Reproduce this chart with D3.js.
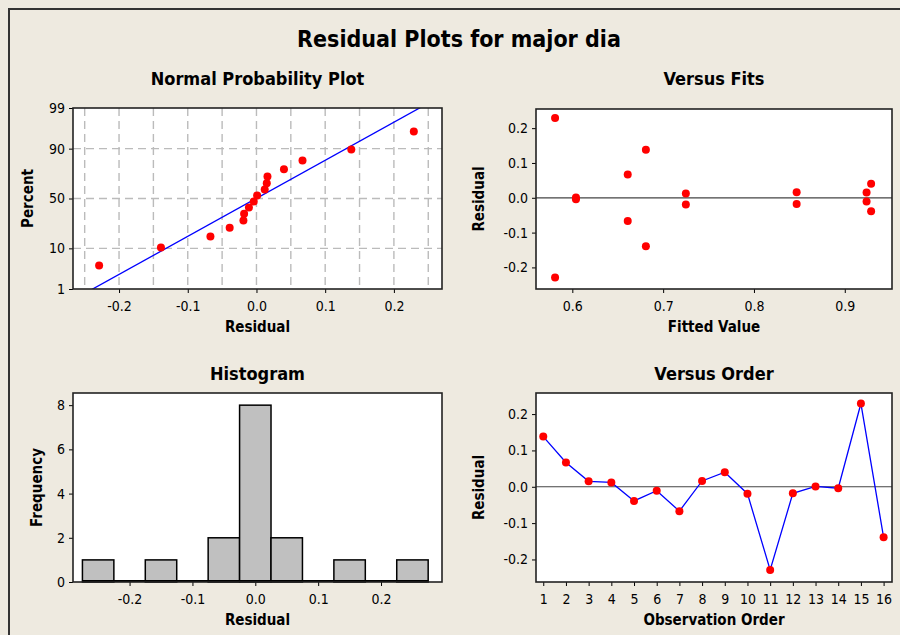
<!DOCTYPE html>
<html>
<head>
<meta charset="utf-8">
<script src="https://cdn.jsdelivr.net/npm/d3@7"></script>
<style>
  body { margin: 0; background: #eeeae0; }
  text { font-family: "DejaVu Sans Condensed", "DejaVu Sans", sans-serif; fill: #000; }
</style>
</head>
<body>
<svg width="900" height="635"></svg>
<script>
// residuals and fits, listed by observation order
var observationOrder = [1, 2, 3, 4, 5, 6, 7, 8, 9, 10, 11, 12, 13, 14, 15, 16];
var residuals = [0.138, 0.067, 0.015, 0.012, -0.039, -0.011, -0.067, 0.016,
                 0.040, -0.019, -0.229, -0.018, 0.001, -0.004, 0.229, -0.139];
var fittedValues = [0.681, 0.661, 0.924, 0.725, 0.929, 0.924, 0.661, 0.847,
                    0.929, 0.725, 0.581, 0.847, 0.604, 0.604, 0.581, 0.681];

// tick labels
var percentTicks = [1, 10, 50, 90, 99];
var npResidTicks = [-0.2, -0.1, 0.0, 0.1, 0.2];
var npGridX = [-0.25, -0.2, -0.15, -0.1, -0.05, 0, 0.05, 0.1, 0.15, 0.2, 0.25];
var npGridY = [10, 50, 90];
var residTicks = [-0.2, -0.1, 0.0, 0.1, 0.2];
var fitTicks = [0.6, 0.7, 0.8, 0.9];
var freqTicks = [0, 2, 4, 6, 8];
var binEdges = [-0.275, -0.225, -0.175, -0.125, -0.075, -0.025, 0.025, 0.075, 0.125, 0.175, 0.225, 0.275];

var svg = d3.select("svg");
// plain hyphen for negatives, like the original
var loc = d3.formatLocale({ decimal: ".", thousands: ",", grouping: [3], currency: ["", ""], minus: "-" });
var fmt1 = loc.format(".1f");

// inverse normal cdf (Acklam)
function qnorm(p) {
  var a = [-39.69683028665376, 220.9460984245205, -275.9285104469687, 138.3577518672690, -30.66479806614716, 2.506628277459239];
  var b = [-54.47609879822406, 161.5858368580409, -155.6989798598866, 66.80131188771972, -13.28068155288572];
  var c = [-0.007784894002430293, -0.3223964580411365, -2.400758277161838, -2.549732539343734, 4.374664141464968, 2.938163982698783];
  var d = [0.007784695709041462, 0.3224671290700398, 2.445134137142996, 3.754408661907416];
  var q, r;
  if (p < 0.02425) {
    q = Math.sqrt(-2 * Math.log(p));
    return (((((c[0]*q+c[1])*q+c[2])*q+c[3])*q+c[4])*q+c[5]) / ((((d[0]*q+d[1])*q+d[2])*q+d[3])*q+1);
  } else if (p > 1 - 0.02425) {
    q = Math.sqrt(-2 * Math.log(1 - p));
    return -(((((c[0]*q+c[1])*q+c[2])*q+c[3])*q+c[4])*q+c[5]) / ((((d[0]*q+d[1])*q+d[2])*q+d[3])*q+1);
  }
  q = p - 0.5; r = q * q;
  return (((((a[0]*r+a[1])*r+a[2])*r+a[3])*r+a[4])*r+a[5])*q / (((((b[0]*r+b[1])*r+b[2])*r+b[3])*r+b[4])*r+1);
}

// background + frame
svg.append("rect").attr("width", 900).attr("height", 635).attr("fill", "#eeeae0");
svg.append("line").attr("x1", 8).attr("x2", 900).attr("y1", 9).attr("y2", 9).attr("stroke", "#333").attr("stroke-width", 2);
svg.append("line").attr("x1", 9).attr("x2", 9).attr("y1", 9).attr("y2", 635).attr("stroke", "#333").attr("stroke-width", 2);

svg.append("text").attr("x", 459).attr("y", 47).attr("text-anchor", "middle")
  .style("font-size", "23px").style("font-weight", "bold").text("Residual Plots for major dia");

// panel helper: white box, title, axis labels
function panel(p) {
  var g = svg.append("g");
  g.append("rect").attr("x", p.x0).attr("y", p.y0).attr("width", p.x1 - p.x0).attr("height", p.y1 - p.y0)
    .attr("fill", "#fff");
  g.append("text").attr("x", (p.x0 + p.x1) / 2).attr("y", p.ty).attr("text-anchor", "middle")
    .style("font-size", "18px").style("font-weight", "bold").text(p.title);
  g.append("text").attr("x", (p.x0 + p.x1) / 2).attr("y", p.y1 + 43).attr("text-anchor", "middle")
    .style("font-size", "15px").style("font-weight", "bold").text(p.xlab);
  g.append("text").attr("transform", "translate(" + p.ylx + "," + (p.y0 + p.y1) / 2 + ") rotate(-90)")
    .attr("text-anchor", "middle").style("font-size", "15px").style("font-weight", "bold").text(p.ylab);
  g.append("clipPath").attr("id", p.id).append("rect")
    .attr("x", p.x0).attr("y", p.y0).attr("width", p.x1 - p.x0).attr("height", p.y1 - p.y0);
  return g;
}

function axes(g, p, x, y, xt, yt, xf, yf) {
  var xa = g.append("g").attr("transform", "translate(0," + p.y1 + ")")
    .call(d3.axisBottom(x).tickValues(xt).tickFormat(xf).tickSize(4).tickSizeOuter(0).tickPadding(8));
  var ya = g.append("g").attr("transform", "translate(" + p.x0 + ",0)")
    .call(d3.axisLeft(y).tickValues(yt).tickFormat(yf).tickSize(4).tickSizeOuter(0).tickPadding(4));
  [xa, ya].forEach(function (a) {
    a.select(".domain").remove();
    a.selectAll("text").style("font-size", "14px").attr("fill", "#000")
      .style("font-family", "'DejaVu Sans Condensed', 'DejaVu Sans', sans-serif");
    a.selectAll("line").attr("stroke", "#000");
  });
}

function frame(g, p) {
  g.append("rect").attr("x", p.x0).attr("y", p.y0).attr("width", p.x1 - p.x0).attr("height", p.y1 - p.y0)
    .attr("fill", "none").attr("stroke", "#222").attr("stroke-width", 1.6);
}

// ---- Normal Probability Plot ----
var np = { id: "cNP", x0: 73, x1: 442, y0: 108, y1: 289, ty: 85, title: "Normal Probability Plot",
           xlab: "Residual", ylab: "Percent", ylx: 33 };
var gNP = panel(np);
var xNP = d3.scaleLinear().domain([-0.267, 0.270]).range([np.x0, np.x1]);
var yNP = d3.scaleLinear().domain([qnorm(0.01), qnorm(0.99)]).range([np.y1, np.y0]);

gNP.selectAll(".gx").data(npGridX).enter().append("line")
  .attr("x1", xNP).attr("x2", xNP).attr("y1", np.y0).attr("y2", np.y1)
  .attr("stroke", "#bbb").attr("stroke-width", 1.4).attr("stroke-dasharray", "8,5");
gNP.selectAll(".gy").data(npGridY).enter().append("line")
  .attr("x1", np.x0).attr("x2", np.x1)
  .attr("y1", function (d) { return yNP(qnorm(d / 100)); })
  .attr("y2", function (d) { return yNP(qnorm(d / 100)); })
  .attr("stroke", "#bbb").attr("stroke-width", 1.4).attr("stroke-dasharray", "8,5");

var mu = d3.mean(residuals), sd = d3.deviation(residuals);
var zr = [qnorm(0.005), qnorm(0.995)];
gNP.append("line").attr("clip-path", "url(#cNP)")
  .attr("x1", xNP(mu + zr[0] * sd)).attr("y1", yNP(zr[0]))
  .attr("x2", xNP(mu + zr[1] * sd)).attr("y2", yNP(zr[1]))
  .attr("stroke", "#0000ff").attr("stroke-width", 1.3);

var sorted = residuals.slice().sort(d3.ascending);
var n = sorted.length;
gNP.selectAll(".pt").data(sorted).enter().append("circle")
  .attr("cx", function (d) { return xNP(d); })
  .attr("cy", function (d, i) { return yNP(qnorm((i + 1 - 0.3) / (n + 0.4))); })
  .attr("r", 4).attr("fill", "#ff0000");

axes(gNP, np, xNP, yNP, npResidTicks, percentTicks.map(function (d) { return qnorm(d / 100); }),
  fmt1, function (d, i) { return percentTicks[i]; });
frame(gNP, np);

// ---- Versus Fits ----
var vf = { id: "cVF", x0: 536, x1: 892, y0: 109, y1: 289, ty: 85, title: "Versus Fits",
           xlab: "Fitted Value", ylab: "Residual", ylx: 484 };
var gVF = panel(vf);
var xVF = d3.scaleLinear().domain([0.56, 0.952]).range([vf.x0, vf.x1]);
var yVF = d3.scaleLinear().domain([-0.262, 0.255]).range([vf.y1, vf.y0]);
gVF.append("line").attr("x1", vf.x0).attr("x2", vf.x1).attr("y1", yVF(0)).attr("y2", yVF(0))
  .attr("stroke", "#444").attr("stroke-width", 1.2);
gVF.selectAll(".pt").data(residuals).enter().append("circle")
  .attr("cx", function (d, i) { return xVF(fittedValues[i]); })
  .attr("cy", function (d) { return yVF(d); })
  .attr("r", 4).attr("fill", "#ff0000");
axes(gVF, vf, xVF, yVF, fitTicks, residTicks, fmt1, fmt1);
frame(gVF, vf);

// ---- Histogram ----
var hs = { id: "cH", x0: 73, x1: 442, y0: 393, y1: 582, ty: 380, title: "Histogram",
           xlab: "Residual", ylab: "Frequency", ylx: 42 };
var gH = panel(hs);
var xH = d3.scaleLinear().domain([-0.29, 0.297]).range([hs.x0, hs.x1]);
var yH = d3.scaleLinear().domain([0, 8.55]).range([hs.y1, hs.y0]);
var bins = d3.bin().domain([binEdges[0], binEdges[binEdges.length - 1]])
  .thresholds(binEdges.slice(1, -1))(residuals);
gH.selectAll(".bar").data(bins).enter().append("rect")
  .attr("x", function (d) { return xH(d.x0); })
  .attr("width", function (d) { return xH(d.x1) - xH(d.x0); })
  .attr("y", function (d) { return yH(d.length); })
  .attr("height", function (d) { return yH(0) - yH(d.length); })
  .attr("fill", "#c0c0c0").attr("stroke", "#000").attr("stroke-width", 1.5);
// empty bins still show as a line along the base
gH.append("line").attr("x1", xH(binEdges[0])).attr("x2", xH(binEdges[binEdges.length - 1]))
  .attr("y1", yH(0) - 1).attr("y2", yH(0) - 1).attr("stroke", "#000").attr("stroke-width", 2);
axes(gH, hs, xH, yH, npResidTicks, freqTicks, fmt1, d3.format("d"));
frame(gH, hs);

// ---- Versus Order ----
var vo = { id: "cVO", x0: 536, x1: 892, y0: 393, y1: 582, ty: 380, title: "Versus Order",
           xlab: "Observation Order", ylab: "Residual", ylx: 484 };
var gVO = panel(vo);
var xVO = d3.scaleLinear().domain([0.68, 16.37]).range([vo.x0, vo.x1]);
var yVO = d3.scaleLinear().domain([-0.262, 0.258]).range([vo.y1, vo.y0]);
gVO.append("line").attr("x1", vo.x0).attr("x2", vo.x1).attr("y1", yVO(0)).attr("y2", yVO(0))
  .attr("stroke", "#444").attr("stroke-width", 1.2);
gVO.append("path").datum(residuals)
  .attr("d", d3.line().x(function (d, i) { return xVO(observationOrder[i]); }).y(function (d) { return yVO(d); }))
  .attr("fill", "none").attr("stroke", "#0000ff").attr("stroke-width", 1.3);
gVO.selectAll(".pt").data(residuals).enter().append("circle")
  .attr("cx", function (d, i) { return xVO(observationOrder[i]); })
  .attr("cy", function (d) { return yVO(d); })
  .attr("r", 4).attr("fill", "#ff0000");
axes(gVO, vo, xVO, yVO, observationOrder, residTicks, d3.format("d"), fmt1);
frame(gVO, vo);
</script>
</body>
</html>
